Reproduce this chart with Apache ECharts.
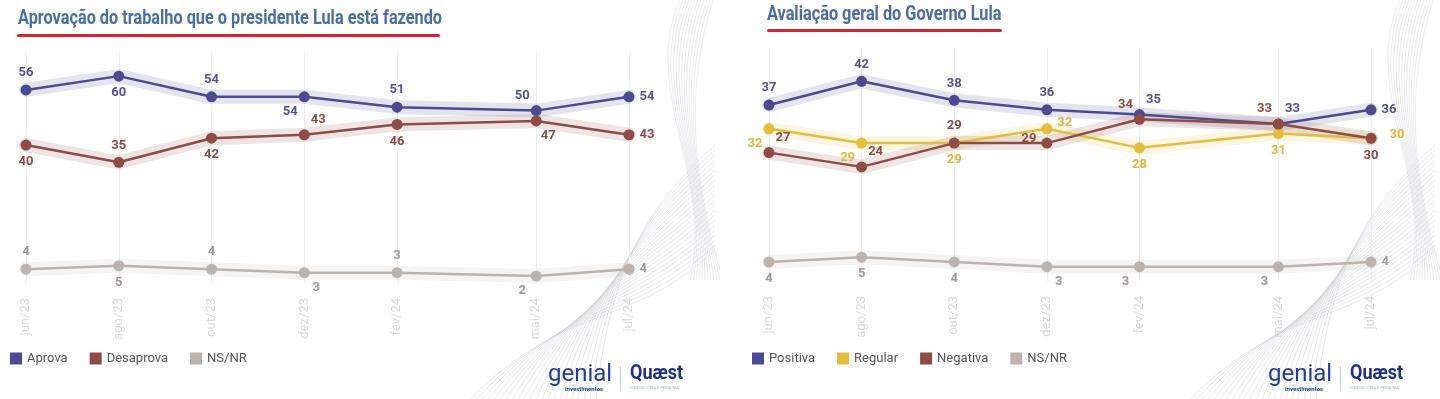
<!DOCTYPE html>
<html>
<head>
<meta charset="utf-8">
<script src="https://cdn.jsdelivr.net/npm/echarts@6/dist/echarts.min.js"></script>
<style>
  html, body { margin: 0; padding: 0; background: #fff; }
  #wrap { width: 1440px; height: 399px; position: relative; }
  .panel { position: absolute; top: 0; width: 720px; height: 399px; }
</style>
</head>
<body>
<div id="wrap">
  <div id="left" class="panel" style="left:0"></div>
  <div id="right" class="panel" style="left:720px"></div>
</div>
<script>
// months on the axis (one slot per month so the gaps keep their real width)
const allMonths = ['jun/23', 'jul/23', 'ago/23', 'set/23', 'out/23', 'nov/23', 'dez/23',
  'jan/24', 'fev/24', 'mar/24', 'abr/24', 'mai/24', 'jun/24', 'jul/24'];
const surveyMonths = ['jun/23', 'ago/23', 'out/23', 'dez/23', 'fev/24', 'mai/24', 'jul/24'];

// Aprovação do trabalho
const aprova = [56, 60, 54, 54, 51, 50, 54];
const desaprova = [40, 35, 42, 43, 46, 47, 43];
const nsnrAprovacao = [4, 5, 4, 3, 3, 2, 4];

// Avaliação do governo
const positiva = [37, 42, 38, 36, 35, 33, 36];
const regular = [32, 29, 29, 32, 28, 31, 30];
const negativa = [27, 24, 29, 29, 34, 33, 30];
const nsnrGoverno = [4, 5, 4, 3, 3, 3, 4];

const COLORS = {
  blue: '#4b4a93',
  red: '#8f4b46',
  gray: '#bbb3ae',
  gold: '#e4bd3c'
};

const FONT = 'Roboto, sans-serif';

// where each value label sits
const labelSpots = {
  t: { position: 'top', offset: [0, 0] },
  b: { position: 'bottom', offset: [0, 0] },
  r: { position: 'right', offset: [0, 0] },
  l: { position: 'left', offset: [0, -4] },
  rt: { position: 'right', offset: [0, -6] },
  rr: { position: 'right', offset: [8, -4] },
  tl: { position: 'top', offset: [-14, 2] },
  tr: { position: 'top', offset: [14, 2] },
  bl: { position: 'bottom', offset: [-14, -2] },
  br: { position: 'bottom', offset: [12, -2] }
};

function spread(values) {
  return allMonths.map(m => {
    const i = surveyMonths.indexOf(m);
    return i >= 0 ? values[i] : '-';
  });
}

function pointData(values, spots, labelColor) {
  return spread(values).map((v, idx) => {
    if (v === '-') return v;
    const s = labelSpots[spots[surveyMonths.indexOf(allMonths[idx])]];
    return {
      value: v,
      label: { position: s.position, offset: s.offset, color: labelColor }
    };
  });
}

function makeSeries(name, values, color, labelColor, spots) {
  return [{
    name: name + '_band',
    type: 'line',
    data: spread(values),
    connectNulls: true,
    symbol: 'none',
    silent: true,
    z: 1,
    lineStyle: { color: color, width: 14, opacity: 0.15, cap: 'round', join: 'round' }
  }, {
    name: name,
    type: 'line',
    data: pointData(values, spots, labelColor),
    connectNulls: true,
    symbol: 'circle',
    symbolSize: 11,
    z: 3,
    itemStyle: { color: color },
    lineStyle: { color: color, width: 2.5 },
    label: {
      show: true,
      fontFamily: FONT,
      fontWeight: 'bold',
      fontSize: 13,
      distance: 5
    }
  }];
}

function waves(w) {
  const out = [];
  // fan sweeping up from the bottom
  for (let i = 0; i < 22; i++) {
    out.push({
      type: 'bezierCurve',
      silent: true,
      shape: {
        x1: w - 250 + i * 6, y1: 399,
        cpx1: w - 150 + i * 2, cpy1: 300 - i * 2,
        cpx2: w - 90 + i, cpy2: 330 - i * 6,
        x2: w - 5, y2: 250 - i * 5
      },
      style: { stroke: '#c9ced3', lineWidth: 0.6, fill: null, opacity: 0.8 }
    });
  }
  // vertical ripple along the right border
  for (let i = 0; i < 12; i++) {
    out.push({
      type: 'bezierCurve',
      silent: true,
      shape: {
        x1: w - 40 + i * 3, y1: 0,
        cpx1: w - 80 + i * 4, cpy1: 90,
        cpx2: w - 5 - i * 2, cpy2: 180,
        x2: w - 30 + i * 3, y2: 280
      },
      style: { stroke: '#d3d7db', lineWidth: 0.6, fill: null, opacity: 0.8 }
    });
  }
  return out;
}

function logos(w) {
  return [
    {
      type: 'text', x: w - 172, y: 363, silent: true, z: 10,
      style: { text: 'genial', fill: '#233d96', font: '24px ' + FONT }
    },
    {
      type: 'text', x: w - 155, y: 386, silent: true, z: 10,
      style: { text: 'investimentos', fill: '#233d96', font: 'bold 6px Roboto' }
    },
    {
      type: 'rect', shape: { x: w - 100, y: 366, width: 1, height: 26 }, silent: true, z: 10,
      style: { fill: '#b7dbe6' }
    },
    {
      type: 'text', x: w - 90, y: 364, silent: true, z: 10, scaleX: 0.9,
      style: { text: 'Quæst', fill: '#1f2f8f', font: 'bold 20px ' + FONT }
    },
    {
      type: 'text', x: w - 90, y: 386, silent: true, z: 10,
      style: { text: 'CONSULTORIA E PESQUISA', fill: '#8fb0c8', font: '4px Roboto' }
    }
  ];
}

function buildPanel(el, cfg) {
  const chart = echarts.init(el);
  let series = [];
  cfg.lines.forEach(l => {
    series = series.concat(makeSeries(l.name, l.values, l.color, l.labelColor, l.spots));
  });
  const shown = idx => surveyMonths.includes(allMonths[idx]);

  chart.setOption({
    backgroundColor: '#fff',
    animation: false,
    graphic: [{
      // condensed title, like the original artwork
      type: 'text',
      x: cfg.titleX,
      y: cfg.titleY,
      scaleX: 0.775,
      style: {
        text: cfg.title,
        fill: '#4a6da6',
        font: 'bold 21px ' + FONT
      }
    }, {
      type: 'rect',
      shape: { x: cfg.lineX1, y: cfg.lineY, width: cfg.lineX2 - cfg.lineX1, height: 3, r: 1.5 },
      style: { fill: '#d92430' }
    }].concat(waves(720), logos(720)),
    legend: {
      data: cfg.lines.map(l => l.name),
      left: cfg.legendLeft,
      top: 347,
      icon: 'rect',
      itemWidth: 12,
      itemHeight: 12,
      itemGap: 22,
      textStyle: { color: '#555', fontFamily: 'Roboto', fontSize: 13 }
    },
    grid: cfg.grid,
    xAxis: {
      type: 'category',
      data: allMonths,
      boundaryGap: false,
      axisLine: { show: false },
      axisTick: { show: false },
      axisLabel: {
        interval: shown,
        rotate: 90,
        margin: 15,
        color: '#dadada',
        fontFamily: 'Roboto',
        fontSize: 13
      },
      splitLine: {
        show: true,
        interval: shown,
        lineStyle: { color: '#eeeeee', width: 1 }
      }
    },
    yAxis: {
      type: 'value',
      show: false,
      min: 0,
      max: cfg.yMax
    },
    series: series
  });
  return chart;
}

buildPanel(document.getElementById('left'), {
  title: 'Aprovação do trabalho que o presidente Lula está fazendo',
  titleX: 18, titleY: 8,
  lineX1: 17, lineX2: 440, lineY: 34,
  legendLeft: 5,
  grid: { left: 26, right: 91, top: 52, bottom: 116 },
  yMax: 67,
  lines: [
    { name: 'Aprova', values: aprova, color: COLORS.blue, labelColor: '#55548f',
      spots: ['t', 'b', 't', 'bl', 't', 'tl', 'r'] },
    { name: 'Desaprova', values: desaprova, color: COLORS.red, labelColor: '#8f4b46',
      spots: ['b', 't', 'b', 'tr', 'b', 'br', 'r'] },
    { name: 'NS/NR', values: nsnrAprovacao, color: COLORS.gray, labelColor: '#a19995',
      spots: ['t', 'b', 't', 'br', 't', 'bl', 'r'] }
  ]
});

buildPanel(document.getElementById('right'), {
  title: 'Avaliação geral do Governo Lula',
  titleX: 47, titleY: 4,
  lineX1: 47, lineX2: 282, lineY: 29,
  legendLeft: 27,
  grid: { left: 49, right: 69, top: 48, bottom: 118 },
  yMax: 49,
  lines: [
    { name: 'Positiva', values: positiva, color: COLORS.blue, labelColor: '#55548f',
      spots: ['t', 't', 't', 't', 'tr', 'tr', 'r'] },
    { name: 'Regular', values: regular, color: COLORS.gold, labelColor: '#e0b83a',
      spots: ['bl', 'bl', 'b', 'rt', 'b', 'b', 'rr'] },
    { name: 'Negativa', values: negativa, color: COLORS.red, labelColor: '#8f4b46',
      spots: ['tr', 'tr', 't', 'l', 'tl', 'tl', 'b'] },
    { name: 'NS/NR', values: nsnrGoverno, color: COLORS.gray, labelColor: '#a19995',
      spots: ['b', 'b', 'b', 'br', 'bl', 'bl', 'r'] }
  ]
});
</script>
</body>
</html>
